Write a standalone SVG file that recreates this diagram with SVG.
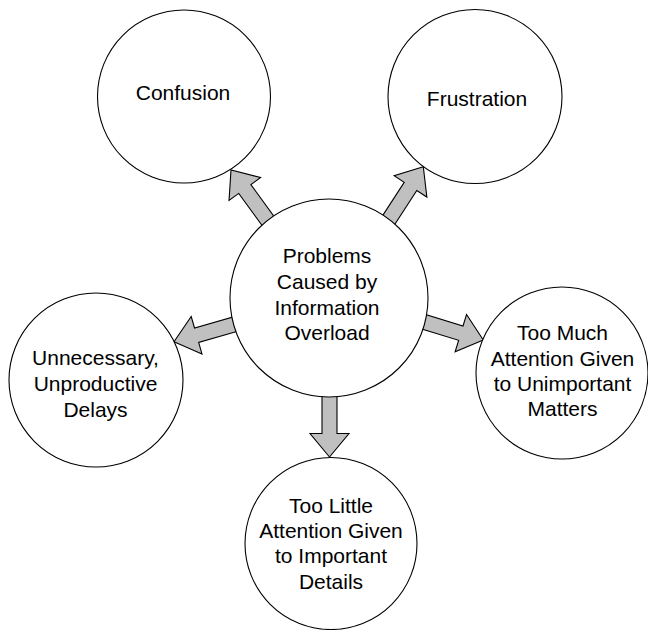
<svg xmlns="http://www.w3.org/2000/svg" width="648" height="630" viewBox="0 0 648 630">
<defs>
<style>
.node{fill:#ffffff;stroke:#000000;stroke-width:1.1}
.arrow{fill:#c0c0c0;stroke:#000000;stroke-width:1.1;stroke-linejoin:miter}
text{font-family:"Liberation Sans",Arial,Helvetica,sans-serif;font-size:21px;fill:#000000;text-anchor:middle}
</style>
<polygon id="blockArrow" points="0,0 -23.5,-19.5 -23.5,-7.5 -90,-7.5 -90,7.5 -23.5,7.5 -23.5,19.5"/>
</defs>
<rect width="648" height="630" fill="#ffffff"/>
<g id="connectors">
<use href="#blockArrow" class="arrow" transform="translate(231,170) rotate(-126)"/>
<use href="#blockArrow" class="arrow" transform="translate(423.3,166.7) rotate(-57)"/>
<use href="#blockArrow" class="arrow" transform="translate(174,341.7) rotate(164)"/>
<use href="#blockArrow" class="arrow" transform="translate(483.3,340) rotate(17)"/>
<use href="#blockArrow" class="arrow" transform="translate(329.5,457) rotate(90)"/>
</g>
<g id="node-center">
<circle class="node" cx="329" cy="298" r="99"/>
<text x="327" y="263">Problems</text>
<text x="327" y="289">Caused by</text>
<text x="327" y="315">Information</text>
<text x="327" y="340">Overload</text>
</g>
<g id="node-confusion">
<circle class="node" cx="184" cy="96.5" r="86.5"/>
<text x="183" y="100">Confusion</text>
</g>
<g id="node-frustration">
<circle class="node" cx="475" cy="96.5" r="87"/>
<text x="477" y="106">Frustration</text>
</g>
<g id="node-delays">
<circle class="node" cx="96" cy="380" r="87"/>
<text x="95.5" y="365">Unnecessary,</text>
<text x="95.5" y="391">Unproductive</text>
<text x="95.5" y="417">Delays</text>
</g>
<g id="node-too-much">
<circle class="node" cx="562" cy="373" r="86"/>
<text x="562.5" y="340">Too Much</text>
<text x="562.5" y="366">Attention Given</text>
<text x="562.5" y="391">to Unimportant</text>
<text x="562.5" y="416">Matters</text>
</g>
<g id="node-too-little">
<circle class="node" cx="331" cy="543.5" r="86"/>
<text x="331" y="513">Too Little</text>
<text x="331" y="538">Attention Given</text>
<text x="331" y="563">to Important</text>
<text x="331" y="589">Details</text>
</g>
</svg>
